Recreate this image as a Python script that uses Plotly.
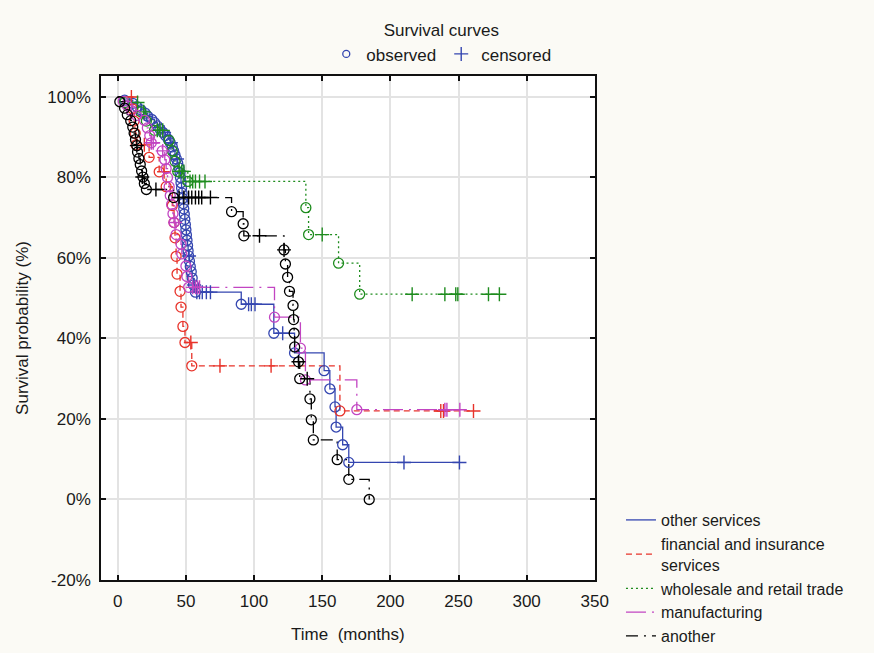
import plotly.graph_objects as go

# ---------------- data ----------------
group_names = ["other services", "financial and insurance<br>services",
               "wholesale and retail trade", "manufacturing", "another"]

blue_obs_t = [5, 11, 14, 17, 20, 22, 25, 27, 29, 31, 33, 35, 37, 38.5, 40, 41, 42, 43, 44, 45,
              45.7, 46.0, 46.4, 46.8, 47.2, 47.6, 48.0, 48.4, 48.8, 49.2, 49.6, 50.0, 50.4, 50.8,
              51.2, 51.6, 52.0, 52.6, 53.2, 53.9, 54.6, 55.6, 57.0, 90.6, 114.5, 129.7, 151.4,
              155.6, 159.4, 160.2, 165, 169.5]
blue_obs_s = [99.2, 98.4, 97.6, 96.8, 96.0, 95.2, 94.4, 93.6, 92.8, 92.0, 91.2, 90.4, 89.5, 88.6,
              87.6, 86.6, 85.6, 84.6, 83.5, 82.4, 81.2, 80.0, 78.7, 77.4, 76.1, 74.8, 73.5, 72.2,
              70.9, 69.6, 68.3, 67.0, 65.7, 64.4, 63.1, 61.8, 60.5, 59.2, 57.9, 56.6, 55.0, 53.3,
              51.5, 48.5, 41.3, 36.4, 32.0, 27.5, 23.0, 18.0, 13.6, 9.2]
blue_cens_t = [34, 39, 43.5, 52.3, 56, 58, 60, 62, 65, 68, 96, 98, 100.7, 121, 210, 250.7]
blue_cens_s = [91.2, 88.6, 84.6, 60.5, 53.3, 51.5, 51.5, 51.5, 51.5, 51.5, 48.5, 48.5, 48.5,
               41.3, 9.2, 9.2]

red_obs_t = [11, 12, 12.8, 13.5, 23, 30.4, 35.5, 40, 41.3, 42, 42.8, 43.5, 45.7, 46.4, 47.8,
             49.3, 54.3, 163]
red_obs_s = [97.0, 94.0, 91.0, 88.1, 85.0, 81.4, 77.7, 73.0, 68.8, 65.0, 60.4, 56.0, 51.7, 47.8,
             43.0, 39.0, 33.2, 22.0]
red_cens_t = [10, 19.5, 34, 53.6, 75, 112.5, 237, 239, 261]
red_cens_s = [100, 88.1, 81.4, 39.0, 33.2, 33.2, 22.0, 22.0, 22.0]

green_obs_t = [5, 17, 21, 27, 37.7, 40, 42, 44, 51.4, 138, 140, 162, 177.5]
green_obs_s = [98.6, 96.3, 94.0, 91.7, 89.2, 86.6, 84.0, 81.5, 79.0, 72.5, 65.8, 58.7, 51.0]
green_cens_t = [14.5, 19, 29, 31, 33, 45, 47, 48.5, 53, 55, 57, 60, 64, 150, 216, 240, 248,
                249.5, 272, 280]
green_cens_s = [98.6, 96.3, 91.7, 91.7, 91.7, 81.5, 81.5, 81.5, 79, 79, 79, 79, 79, 65.8, 51,
                51, 51, 51, 51, 51]

pink_obs_t = [4, 7, 10, 13.8, 19.5, 21.7, 23.5, 24.6, 32.6, 34.5, 35.5, 36.5, 37.7, 38.5, 39.5,
              40.5, 41.3, 42.8, 46.4, 47, 50, 50.7, 52, 115, 134, 137.7, 175.4]
pink_obs_s = [98.9, 97.8, 96.6, 95.4, 94.2, 92.3, 90.4, 88.6, 86.6, 84.4, 82.2, 80.0, 77.7, 75.5,
              73.3, 71.0, 68.8, 65.8, 63.4, 61.0, 58.0, 55.4, 52.7, 45.3, 37.6, 29.7, 22.3]
pink_cens_t = [24.6, 26, 33, 42, 55, 57, 58.5, 60, 240, 241.5, 251]
pink_cens_s = [88.6, 88.6, 86.6, 68.8, 52.7, 52.7, 52.7, 52.7, 22.3, 22.3, 22.3]

black_obs_t = [1.5, 5, 7, 9.5, 11, 12, 13, 14, 14.5, 15.5, 16.5, 17.5, 18.5, 19.5, 21, 41, 83.5,
               92, 92.5, 122, 123, 124.6, 126, 128.6, 129, 129.4, 129.8, 132.6, 133.5, 141, 142,
               143.5, 161, 169.5, 184.5]
black_obs_s = [98.8, 97.2, 95.6, 94.1, 92.5, 91.0, 89.4, 87.9, 86.3, 84.7, 83.2, 81.6, 80.1,
               78.5, 77.0, 75.0, 71.5, 68.5, 65.5, 62.0, 58.5, 55.2, 51.7, 48.2, 44.7, 41.3,
               37.9, 34.2, 30.0, 25.0, 19.8, 14.8, 9.9, 5.0, 0.0]
black_cens_t = [14, 18, 28, 45, 48.5, 52, 54.3, 57, 59.4, 61.6, 68, 104, 122, 132.6, 139]
black_cens_s = [87.9, 80.1, 77.0, 75, 75, 75, 75, 75, 75, 75, 75, 65.5, 62.0, 34.2, 30.0]

x_ticks = [0, 50, 100, 150, 200, 250, 300, 350]
y_ticks = [-20, 0, 20, 40, 60, 80, 100]
y_tick_labels = ["-20%", "0%", "20%", "40%", "60%", "80%", "100%"]

# ---------------- styles ----------------
groups = [
    (group_names[0], blue_obs_t, blue_obs_s, blue_cens_t, blue_cens_s, "#3446B0", "solid"),
    (group_names[1], red_obs_t, red_obs_s, red_cens_t, red_cens_s, "#E8332A", "6px,4px"),
    (group_names[2], green_obs_t, green_obs_s, green_cens_t, green_cens_s, "#1E8C1E", "2px,3px"),
    (group_names[3], pink_obs_t, pink_obs_s, pink_cens_t, pink_cens_s, "#C245C2", "20px,6px,2px,6px"),
    (group_names[4], black_obs_t, black_obs_s, black_cens_t, black_cens_s, "#000000", "12px,6px,2px,6px"),
]

FONT = "Liberation Sans, Arial, sans-serif"
TXT = "#1a1a1a"
FS = 17
fig = go.Figure()

for name, ot, os_, ct, cs, col, dash in groups:
    pts = [(0, 100)] + list(zip(ot, os_)) + list(zip(ct, cs))
    pts.sort(key=lambda p: (p[0], -p[1]))
    fig.add_trace(go.Scatter(
        x=[p[0] for p in pts], y=[p[1] for p in pts], mode="lines", name=name,
        line=dict(color=col, width=1.3, dash=dash, shape="hv"), legend="legend"))

for name, ot, os_, ct, cs, col, dash in groups:
    fig.add_trace(go.Scatter(
        x=ot, y=os_, mode="markers", showlegend=False,
        marker=dict(symbol="circle-open", size=10, color=col, line=dict(width=1.3, color=col))))
    fig.add_trace(go.Scatter(
        x=ct, y=cs, mode="markers", showlegend=False,
        marker=dict(symbol="cross-thin", size=10, color=col, line=dict(width=1.4, color=col))))

# top legend entries (marker key)
fig.add_trace(go.Scatter(x=[None], y=[None], mode="markers", name="observed", legend="legend2",
                         marker=dict(symbol="circle-open", size=7, color="#3446B0",
                                     line=dict(width=1.3, color="#3446B0"))))
fig.add_trace(go.Scatter(x=[None], y=[None], mode="markers", name="censored", legend="legend2",
                         marker=dict(symbol="cross-thin", size=10, color="#3446B0",
                                     line=dict(width=1.4, color="#3446B0"))))

axis_common = dict(showline=True, linecolor="#111111", linewidth=1.6, mirror="ticks",
                   ticks="inside", ticklen=5, tickwidth=1.5, tickcolor="#111111",
                   showgrid=True, gridcolor="#E3E3E3", gridwidth=1.5, zeroline=False,
                   ticklabelstandoff=5,
                   tickfont=dict(family=FONT, size=FS, color=TXT))

fig.update_layout(
    width=874, height=653,
    margin=dict(l=101, r=270, t=76, b=69),
    paper_bgcolor="#FBFAF5", plot_bgcolor="#FFFFFF",
    font=dict(family=FONT, size=FS, color=TXT),
    xaxis=dict(range=[-12.3, 350], tickvals=x_ticks,
               title=dict(text="Time\u00a0 (months)", standoff=18,
                          font=dict(family=FONT, size=FS, color=TXT)),
               **axis_common),
    yaxis=dict(range=[-20, 105.2], tickvals=y_ticks, ticktext=y_tick_labels,
               title=dict(text="Survival probability (%)", standoff=14,
                          font=dict(family=FONT, size=FS, color=TXT)),
               **axis_common),
    legend=dict(xref="container", yref="container", x=0.7105, y=0.2297,
                xanchor="left", yanchor="top", bgcolor="rgba(0,0,0,0)",
                font=dict(family=FONT, size=16, color=TXT), tracegroupgap=0,
                itemwidth=30),
    legend2=dict(orientation="h", x=0.922, y=1.1225,
                 xanchor="right", yanchor="top", bgcolor="rgba(0,0,0,0)",
                 title=dict(text="Survival curves", side="top center",
                            font=dict(family=FONT, size=FS, color=TXT)),
                 font=dict(family=FONT, size=FS, color=TXT)),
    showlegend=True,
)

fig.write_html("out.html")
